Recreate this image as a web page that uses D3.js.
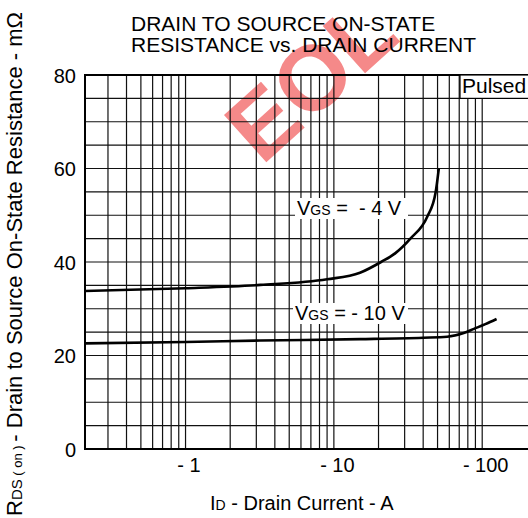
<!DOCTYPE html>
<html>
<head>
<meta charset="utf-8">
<script src="https://cdn.jsdelivr.net/npm/d3@7"></script>
<style>
  body { margin: 0; background: #fff; }
  svg { display: block; font-family: "Liberation Sans", Arial, sans-serif; }
  text { white-space: pre; }
</style>
</head>
<body>
<svg id="chart" width="528" height="518"></svg>
<script>
// drain current (A, magnitude) and Rds(on) (mOhm)
var idVgs4 = [0.21, 1, 3.2, 9, 15, 20.8, 26, 32.8, 42.6, 48.4, 51];
var rdsVgs4 = [33.8, 34.4, 35.1, 36.3, 37.7, 40.0, 41.9, 45.0, 49.7, 54.7, 60.0];
var idVgs10 = [0.21, 1, 3.2, 15, 40, 58, 75, 88, 105, 125];
var rdsVgs10 = [22.6, 22.9, 23.2, 23.5, 23.8, 24.0, 24.8, 25.7, 26.7, 27.8];

var xTicks = [1, 10, 100];
var xTickLabels = ["- 1", "- 10", "- 100"];
var yTicks = [0, 20, 40, 60, 80];

var svg = d3.select("#chart");
var pLeft = 85, pRight = 530, pTop = 75, pBottom = 449;

var x = d3.scaleLog().domain([0.21, 210]).range([pLeft, pRight]);
var y = d3.scaleLinear().domain([0, 80]).range([pBottom, pTop]);

// watermark, sits under the grid
svg.append("text")
  .attr("transform", "translate(332,103) rotate(-42)")
  .attr("text-anchor", "middle")
  .style("font-size", "92px")
  .style("font-weight", "bold")
  .style("fill", "rgba(236,40,40,0.55)")
  .text("EOL");

//----------grid
var vLines = [];
[0.1, 1, 10, 100].forEach(function(d) {
  for (var k = 1; k < 10; k++) {
    var v = k * d;
    if (v > 0.21 && v <= 100.5) vLines.push(v);
  }
});
var hLines = d3.range(5, 80, 5);

var grid = svg.append("g");
grid.selectAll(".vgrid").data(vLines).enter().append("line")
  .attr("class", "vgrid")
  .attr("x1", function(d) { return x(d); })
  .attr("x2", function(d) { return x(d); })
  .attr("y1", pTop).attr("y2", pBottom)
  .style("stroke", "#111").style("stroke-width", 1.2);
grid.selectAll(".hgrid").data(hLines).enter().append("line")
  .attr("class", "hgrid")
  .attr("x1", pLeft).attr("x2", pRight)
  .attr("y1", function(d) { return y(d); })
  .attr("y2", function(d) { return y(d); })
  .style("stroke", "#111").style("stroke-width", 1.2);

// frame
svg.append("rect")
  .attr("x", pLeft).attr("y", pTop)
  .attr("width", pRight - pLeft).attr("height", pBottom - pTop)
  .style("fill", "none").style("stroke", "#000").style("stroke-width", 2);

//----------axes
var xAxis = d3.axisBottom(x).tickValues(xTicks).tickSize(0)
  .tickFormat(function(d, i) { return xTickLabels[i]; });
var gx = svg.append("g").attr("transform", "translate(3," + pBottom + ")").call(xAxis);
gx.select(".domain").remove();
gx.selectAll("text").attr("y", 9).style("font-size", "20px")
  .style("font-family", "Liberation Sans, Arial, sans-serif").style("fill", "#000");

var yAxis = d3.axisLeft(y).tickValues(yTicks).tickSize(0);
var gy = svg.append("g").attr("transform", "translate(" + (pLeft - 9) + ",0)").call(yAxis);
gy.select(".domain").remove();
gy.selectAll("text").attr("x", 0).attr("dy", "0.36em").style("font-size", "20px")
  .style("font-family", "Liberation Sans, Arial, sans-serif").style("fill", "#000");

//----------curves
var line = d3.line()
  .x(function(d) { return x(d[0]); })
  .y(function(d) { return y(d[1]); })
  .curve(d3.curveMonotoneX);

svg.append("path")
  .datum(d3.zip(idVgs4, rdsVgs4))
  .attr("d", line)
  .style("fill", "none").style("stroke", "#000").style("stroke-width", 2.6);
svg.append("path")
  .datum(d3.zip(idVgs10, rdsVgs10))
  .attr("d", line)
  .style("fill", "none").style("stroke", "#000").style("stroke-width", 2.6);

//----------curve labels
function vgsLabel(px, py, w, val) {
  svg.append("rect").attr("x", px - 2).attr("y", py - 17).attr("width", w).attr("height", 21)
    .style("fill", "#fff");
  var t = svg.append("text").attr("x", px).attr("y", py).style("font-size", "20px");
  t.append("tspan").text("V");
  t.append("tspan").style("font-size", "14px").text("GS");
  t.append("tspan").text(val);
}
vgsLabel(297, 215, 113, " =  - 4 V");
vgsLabel(295, 320, 115, " = - 10 V");

// Pulsed box
svg.append("rect").attr("x", 460).attr("y", pTop).attr("width", 80).attr("height", y(75) - pTop)
  .style("fill", "#fff").style("stroke", "#000").style("stroke-width", 1.2);
svg.append("text").attr("x", 462).attr("y", 93).style("font-size", "21px").text("Pulsed");

//----------titles
var title = svg.append("text").style("font-size", "21px");
title.append("tspan").attr("x", 131).attr("y", 31).text("DRAIN TO SOURCE ON-STATE");
title.append("tspan").attr("x", 131).attr("y", 52).text("RESISTANCE vs. DRAIN CURRENT");

var xt = svg.append("text").attr("x", 210).attr("y", 510).style("font-size", "20px");
xt.append("tspan").text("I");
xt.append("tspan").style("font-size", "14px").text("D");
xt.append("tspan").text(" - Drain Current - A");

var yt = svg.append("text").attr("transform", "translate(22,516) rotate(-90)").style("font-size", "22px");
yt.append("tspan").text("R");
yt.append("tspan").style("font-size", "15px").text("DS");
yt.append("tspan").style("font-size", "13px").text(" ( on ) ");
yt.append("tspan").text("- Drain to Source On-State Resistance - m\u03a9");
</script>
</body>
</html>
